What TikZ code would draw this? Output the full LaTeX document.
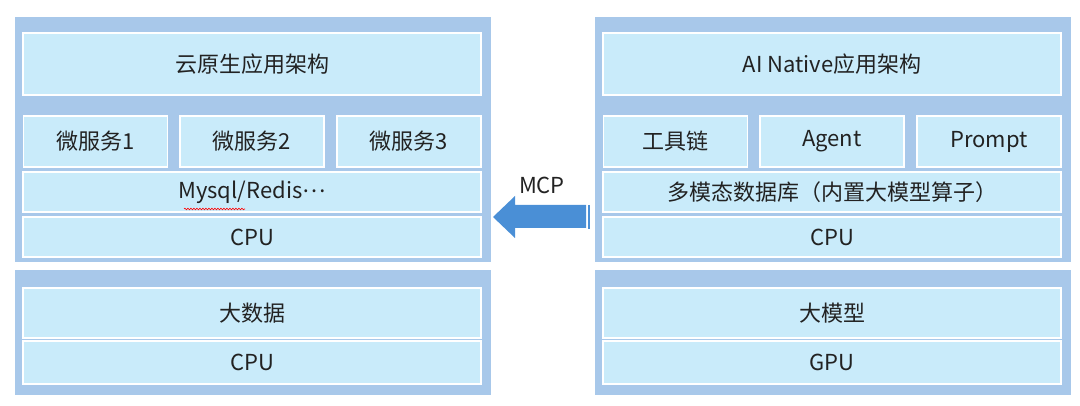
\documentclass[tikz,border=0pt]{standalone}
\usepackage{fontspec}
\setmainfont{Noto Sans CJK SC}
\usepackage{tikz}
\usetikzlibrary{decorations.pathmorphing}
\definecolor{panelblue}{HTML}{A8C8EA}
\definecolor{layerblue}{HTML}{C9EBFA}
\definecolor{arrowblue}{HTML}{4A8FD6}
\definecolor{textgray}{HTML}{222222}

\begin{document}
\begin{tikzpicture}[x=1pt, y=-1pt,
        panel/.style={fill=panelblue, minimum width=476pt, inner sep=0pt},
        layer/.style={fill=layerblue, draw=white, line width=1.2pt, inner sep=0pt, text=textgray,
            font=\fontsize{22}{26}\selectfont},
        wide/.style={minimum width=458pt},
        third/.style={minimum width=144pt, minimum height=51pt}]
        \useasboundingbox (0,0) rectangle (1080,406);
        % Cloud native stack
        \node[panel, minimum height=245pt] (cloudpanel) at (253,139.5) {};
        \node[layer, wide, minimum height=62pt] (cloudapp) at (252,64) {云原生应用架构};
        \node[layer, third] (svcone) at (95.5,141.5) {微服务1};
        \node[layer, third] (svctwo) at (252,141.5) {微服务2};
        \node[layer, third] (svcthree) at (409,141.5) {微服务3};
        \node[layer, wide, minimum height=40pt] (clouddb) at (252,192) {Mysql/Redis\raisebox{0.28em}{…}};
        \node[layer, wide, minimum height=40pt] (cloudcpu) at (252,237) {CPU};
        \draw[red, line width=0.6pt, decorate, decoration={snake, amplitude=0.8pt, segment length=3pt}]
            (184,209) -- (245,209);
        % Big data stack
        \node[panel, minimum height=125pt] (datapanel) at (253,332.5) {};
        \node[layer, wide, minimum height=50pt] (bigdata) at (252,313) {大数据};
        \node[layer, wide, minimum height=43pt] (datacpu) at (252,362.5) {CPU};
        % AI native stack
        \node[panel, minimum height=245pt] (aipanel) at (833,139.5) {};
        \node[layer, wide, minimum height=62pt] (aiapp) at (832,64) {AI Native应用架构};
        \node[layer, third] (toolchain) at (675.5,141.5) {工具链};
        \node[layer, third] (agent) at (832,141.5) {Agent};
        \node[layer, third] (prompt) at (989,141.5) {Prompt};
        \node[layer, wide, minimum height=40pt] (aidb) at (832,192) {多模态数据库（内置大模型算子）};
        \node[layer, wide, minimum height=40pt] (aicpu) at (832,237) {CPU};
        % Model stack
        \node[panel, minimum height=125pt] (modelpanel) at (833,332.5) {};
        \node[layer, wide, minimum height=50pt] (bigmodel) at (832,313) {大模型};
        \node[layer, wide, minimum height=43pt] (modelgpu) at (832,362.5) {GPU};
        % MCP arrow
        \fill[arrowblue] (586,205) -- (515,205) -- (515,196) -- (493,217) -- (515,238) -- (515,228)
            -- (586,228) -- cycle;
        \draw[arrowblue, line width=1.5pt] (589,205) -- (589,229);
        \node[text=textgray, font=\fontsize{22}{26}\selectfont] (mcp) at (542,185) {MCP};
\end{tikzpicture}
\end{document}
